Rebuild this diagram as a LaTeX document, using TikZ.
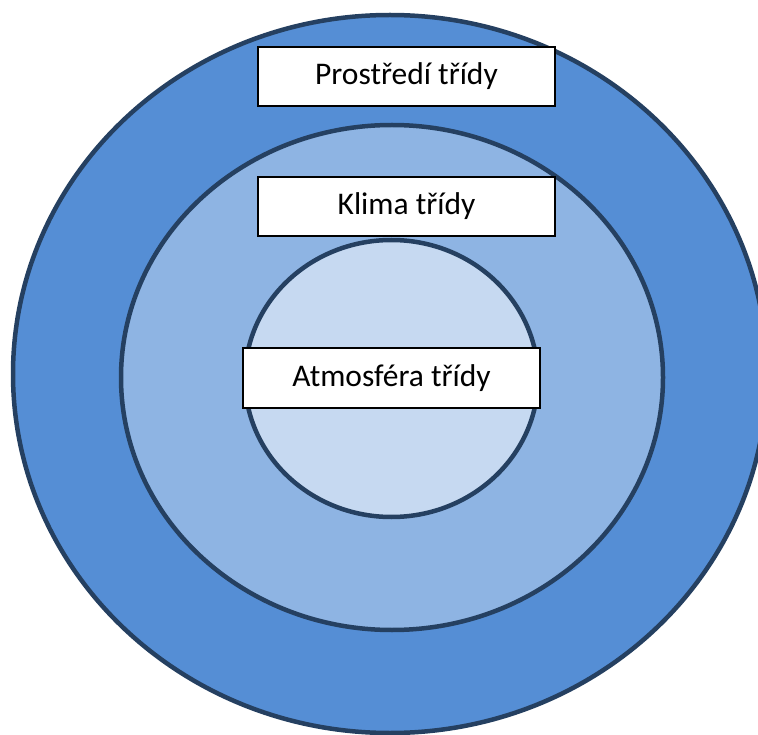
\documentclass[tikz,border=0pt]{standalone}
\usepackage{fontspec}
\setmainfont{Carlito}
\usepackage{xcolor}
\usetikzlibrary{shapes.geometric}
\definecolor{ringdark}{HTML}{558ED5}
\definecolor{ringmid}{HTML}{8EB4E3}
\definecolor{ringlight}{HTML}{C6D9F1}
\definecolor{ringline}{HTML}{254061}

\begin{document}
\begin{tikzpicture}[x=1pt,y=-1pt,
  ring/.style={ellipse,draw=ringline,line width=4.5pt,inner sep=0pt},
  levelbox/.style={rectangle,draw=black,line width=1.2pt,fill=white,minimum width=297pt,minimum height=59pt,inner sep=0pt,font=\fontsize{31.5}{36}\selectfont}]
\useasboundingbox (0,0) rectangle (758,735);
\clip (0,0) rectangle (758,735);
\draw (390,374) node[ring,fill=ringdark,minimum width=754pt,minimum height=718pt](outer) {};
\draw (392,377.5) node[ring,fill=ringmid,minimum width=542pt,minimum height=505pt](middle) {};
\draw (391.5,378.5) node[ring,fill=ringlight,minimum width=293pt,minimum height=277pt](inner) {};
\draw (406.5,76.5) node[levelbox](prostredi) {Prostředí třídy};
\draw (406.5,206.5) node[levelbox](klima) {Klima třídy};
\draw (391.5,378) node[levelbox,minimum height=60pt](atmosfera) {Atmosféra třídy};
\end{tikzpicture}
\end{document}
